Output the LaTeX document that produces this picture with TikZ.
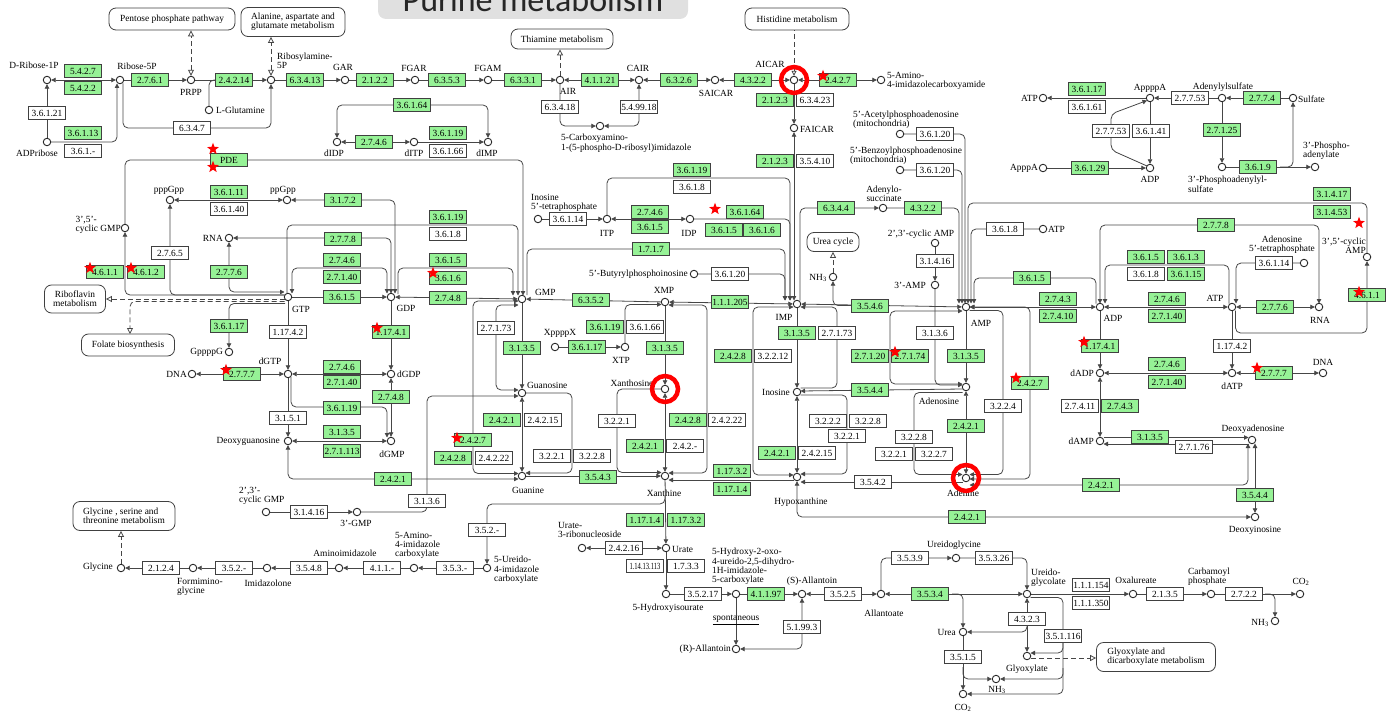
\documentclass[tikz,border=0pt]{standalone}
\usepackage{fontspec}
\setmainfont{Liberation Serif}
\newfontfamily\titlefont{Carlito}
\usepackage{graphicx}
\usetikzlibrary{arrows.meta,shapes.geometric,backgrounds}
\definecolor{kg}{RGB}{150,242,150}
\definecolor{lc}{RGB}{70,70,70}
\newcommand\kfs{\fontsize{9.4}{9.3}\selectfont}
\newcommand\EG[3]{\node[eg] (#1) at (#2) {#3};}
\newcommand\EW[3]{\node[ew] (#1) at (#2) {#3};}
\newcommand\CP[2]{\node[cpd] (#1) at (#2) {};}
\tikzset{
  cpd/.style={circle,draw=black!85,fill=white,line width=0.9pt,inner sep=0pt,minimum size=7.5pt},
  eg/.style={rectangle,draw=black!75,fill=kg,line width=0.8pt,minimum width=37pt,minimum height=12.5pt,inner sep=0.5pt,font=\kfs},
  ew/.style={eg,fill=white},
  lb/.style={inner sep=0pt,font=\kfs,align=center},
  lbl/.style={inner sep=0pt,font=\kfs,align=left},
  mapb/.style={rectangle,rounded corners=7pt,draw=black!75,line width=0.8pt,fill=white,font=\kfs,align=center,inner sep=2pt},
  ln/.style={draw=lc,line width=0.8pt,rounded corners=5pt},
  dsh/.style={ln,dash pattern=on 5pt off 3pt},
  rstar/.style={star,star points=5,star point ratio=2.4,fill=red,draw=none,minimum size=12.5pt,inner sep=0pt},
  ring/.style={circle,draw=red,line width=4.5pt,minimum size=26pt,inner sep=0pt},
  >={Triangle[length=4.5pt,width=4.5pt]},
  op/.style={-{Triangle[open,length=6pt,width=6pt]}},
  opb/.style={{Triangle[open,length=6pt,width=6pt]}-{Triangle[open,length=6pt,width=6pt]}},
  opr/.style={{Triangle[open,length=5pt,width=5pt]}-},
}
\begin{document}
\begin{tikzpicture}[x=1pt,y=-1pt]
\useasboundingbox (0,0) rectangle (1396,719);
% title
\fill[black!12,rounded corners=8pt] (378,-30) rectangle (688,19);
\node[anchor=base,inner sep=0pt,font=\titlefont\fontsize{34}{34}\selectfont,text=black!85] (title) at (533,12) {Purine metabolism};

% ---------------- compounds ----------------
\CP{dr1p}{47,80}\CP{r5p}{120,80}\CP{prpp}{191,80}\CP{lgln}{209,110}\CP{pra}{271,80}
\CP{gar}{345,80}\CP{fgar}{415,80}\CP{fgam}{488,80}\CP{air}{560,80}\CP{cair}{639,80}
\CP{car}{600,126}\CP{saicar}{715,80}\CP{aicar}{794,80}\CP{aica}{881,80}\CP{faicar}{794,128}
\CP{adpr}{47,142}\CP{didp}{337,142}\CP{ditp}{414,142}\CP{dimp}{488,142}
\CP{pppgpp}{170,200}\CP{ppgpp}{287,200}\CP{cgmp}{125,228}\CP{rnaa}{229,238}
\CP{gtp}{288,297}\CP{gppppg}{229,352}\CP{dgtp}{288,374}\CP{dnaa}{192,374}\CP{dgsn}{288,441}
\CP{gdp}{391,297}\CP{dgdp}{391,374}\CP{dgmp}{391,441}\CP{gmp}{522,299}\CP{xmp}{665,302}
\CP{xppppx}{555,347}\CP{xtp}{625,347}\CP{guo}{522,393}\CP{xao}{665,389}\CP{gua}{522,476}
\CP{xan}{665,476}\CP{itp}{607,219}\CP{inotp}{538,219}\CP{idp}{690,219}\CP{butyr}{694,274}
\CP{imp}{797,304}\CP{nhA}{833,277}\CP{ccamp}{935,243}\CP{tamp}{935,285}\CP{amp}{966,307}
\CP{ino}{797,392}\CP{ado}{966,387}\CP{hyp}{797,477}\CP{ade}{966,478}\CP{adsucc}{883,208}
\CP{acet}{900,134}\CP{benz}{900,170}\CP{atpA}{1043,229}\CP{atpB}{1043,98}\CP{apppa}{1043,168}
\CP{appppa}{1150,98}\CP{aps}{1222,98}\CP{sulf}{1293,98}\CP{adpA}{1150,168}\CP{paps}{1222,167}
\CP{pap}{1315,167}\CP{adp}{1100,307}\CP{atp}{1232,307}\CP{rnab}{1319,307}\CP{adotp}{1304,263}
\CP{camp}{1367,257}\CP{dadp}{1100,373}\CP{datp}{1232,373}\CP{dnab}{1323,373}\CP{damp}{1100,441}
\CP{dado}{1252,440}\CP{dino}{1255,517}\CP{cgmpb}{266,512}\CP{tgmp}{357,512}\CP{uic}{487,568}
\CP{aic}{414,568}\CP{aim}{339,568}\CP{imz}{267,568}\CP{fgly}{193,568}\CP{gly}{121,568}
\CP{urate}{666,548}\CP{urn}{582,548}\CP{hiu}{666,594}\CP{ohc}{736,594}\CP{sall}{802,594}
\CP{rall}{736,649}\CP{allo}{881,594}\CP{ugly}{956,558}\CP{ugc}{1027,594}\CP{urea}{963,632}
\CP{glx}{1027,656}\CP{nhB}{996,679}\CP{coA}{963,694}\CP{oxa}{1133,594}\CP{cbp}{1211,594}
\CP{coB}{1300,594}\CP{nhC}{1275,621}

% ---------------- pathway maps ----------------
\node[mapb,minimum width=126,minimum height=22] (ppp) at (172,19) {Pentose phosphate pathway};
\node[mapb,minimum width=104,minimum height=29,align=left] (ala) at (293,22) {Alanine, aspartate and\\glutamate metabolism};
\node[mapb,minimum width=102,minimum height=20] (thi) at (562,39) {Thiamine metabolism};
\node[mapb,minimum width=104,minimum height=22] (his) at (797,19) {Histidine metabolism};
\node[mapb,minimum width=61,minimum height=28] (rib) at (75,299) {Riboflavin\\metabolism};
\node[mapb,minimum width=93,minimum height=22] (fol) at (128,345) {Folate biosynthesis};
\node[mapb,minimum width=52,minimum height=19] (ucy) at (833,242) {Urea cycle};
\node[mapb,minimum width=102,minimum height=29,align=left] (gsm) at (124,516) {Glycine , serine and\\threonine metabolism};
\node[mapb,minimum width=119,minimum height=29,align=left] (gdm) at (1156,657) {Glyoxylate and\\dicarboxylate metabolism};

% ---------------- enzymes ----------------
\EG{e1}{83,71}{5.4.2.7}\EG{e2}{83,88}{5.4.2.2}\EW{e3}{47,113}{3.6.1.21}\EG{e4}{83,133}{3.6.1.13}
\EW{e5}{83,151}{3.6.1.-}\EG{e6}{150,80}{2.7.6.1}\EG{e7}{234,80}{2.4.2.14}\EG{e8}{305,80}{6.3.4.13}
\EW{e9}{192,128}{6.3.4.7}\EG{e10}{375,80}{2.1.2.2}\EG{e11}{447,80}{6.3.5.3}\EG{e12}{523,80}{6.3.3.1}
\EG{e13}{600,80}{4.1.1.21}\EW{e14}{560,107}{6.3.4.18}\EW{e15}{639,107}{5.4.99.18}\EG{e16}{679,80}{6.3.2.6}
\EG{e17}{753,80}{4.3.2.2}\EG{e18}{838,80}{2.4.2.7}\EG{e19}{775,100}{2.1.2.3}\EW{e20}{815,100}{6.3.4.23}
\EG{e21}{775,161}{2.1.2.3}\EW{e22}{815,161}{3.5.4.10}\EG{e23}{412,105}{3.6.1.64}\EG{e24}{374,142}{2.7.4.6}
\EG{e25}{448,133}{3.6.1.19}\EW{e26}{448,151}{3.6.1.66}\EG{e27}{229,160}{PDE}\EG{e28}{229,192}{3.6.1.11}
\EW{e29}{229,209}{3.6.1.40}\EG{e30}{343,200}{3.1.7.2}\EW{e31}{170,253}{2.7.6.5}\EG{e32}{448,217}{3.6.1.19}
\EW{e33}{448,234}{3.6.1.8}\EG{e34}{343,239}{2.7.7.8}\EG{e35}{105,272}{4.6.1.1}\EG{e36}{146,272}{4.6.1.2}
\EG{e37}{229,272}{2.7.7.6}\EG{e38}{342,260}{2.7.4.6}\EG{e39}{342,277}{2.7.1.40}\EG{e40}{342,297}{3.6.1.5}
\EG{e41}{229,326}{3.6.1.17}\EW{e42}{288,332}{1.17.4.2}\EG{e43}{242,374}{2.7.7.7}\EG{e44}{342,367}{2.7.4.6}
\EG{e45}{342,382}{2.7.1.40}\EG{e46}{342,408}{3.6.1.19}\EW{e47}{288,418}{3.1.5.1}\EG{e48}{342,432}{3.1.3.5}
\EG{e49}{342,451}{2.7.1.113}\EG{e50}{448,260}{3.6.1.5}\EG{e51}{448,278}{3.6.1.6}\EG{e52}{448,298}{2.7.4.8}
\EG{e53}{391,332}{1.17.4.1}\EG{e54}{391,397}{2.7.4.8}\EG{e55}{591,300}{6.3.5.2}\EW{e56}{496,328}{2.7.1.73}
\EG{e57}{522,348}{3.1.3.5}\EG{e58}{587,347}{3.6.1.17}\EG{e59}{605,327}{3.6.1.19}\EW{e60}{645,327}{3.6.1.66}
\EG{e61}{665,348}{3.1.3.5}\EG{e62}{502,420}{2.4.2.1}\EW{e63}{543,420}{2.4.2.15}\EG{e64}{473,440}{2.4.2.7}
\EG{e65}{453,458}{2.4.2.8}\EW{e66}{494,458}{2.4.2.22}\EW{e67}{552,456}{3.2.2.1}\EW{e68}{592,456}{3.2.2.8}
\EW{e69}{617,421}{3.2.2.1}\EG{e70}{688,420}{2.4.2.8}\EW{e71}{727,420}{2.4.2.22}\EG{e72}{645,446}{2.4.2.1}
\EW{e73}{685,446}{2.4.2.-}\EG{e74}{651,249}{1.7.1.7}\EW{e75}{568,219}{3.6.1.14}\EG{e76}{650,212}{2.7.4.6}
\EG{e77}{650,227}{3.6.1.5}\EG{e78}{692,170}{3.6.1.19}\EW{e79}{692,187}{3.6.1.8}\EG{e80}{745,212}{3.6.1.64}
\EG{e81}{724,230}{3.6.1.5}\EG{e82}{762,230}{3.6.1.6}\EG{e83}{730,302}{1.1.1.205}\EW{e84}{730,274}{3.6.1.20}
\EG{e85}{733,356}{2.4.2.8}\EW{e86}{773,356}{3.2.2.12}\EG{e87}{797,333}{3.1.3.5}\EW{e88}{837,333}{2.7.1.73}
\EG{e89}{870,306}{3.5.4.6}\EW{e90}{935,261}{3.1.4.16}\EW{e91}{935,333}{3.1.3.6}\EG{e92}{870,356}{2.7.1.20}
\EG{e93}{910,356}{2.7.1.74}\EG{e94}{966,356}{3.1.3.5}\EG{e95}{870,390}{3.5.4.4}\EG{e96}{1032,278}{3.6.1.5}
\EG{e97}{1030,383}{2.4.2.7}\EW{e98}{1003,406}{3.2.2.4}\EW{e99}{828,421}{3.2.2.2}\EW{e100}{868,421}{3.2.2.8}
\EW{e101}{847,436}{3.2.2.1}\EG{e102}{777,453}{2.4.2.1}\EW{e103}{817,453}{2.4.2.15}\EW{e104}{914,437}{3.2.2.8}
\EW{e105}{894,454}{3.2.2.1}\EW{e106}{934,454}{3.2.2.7}\EG{e107}{966,426}{2.4.2.1}\EG{e108}{732,471}{1.17.3.2}
\EG{e109}{732,489}{1.17.1.4}\EW{e110}{873,482}{3.5.4.2}\EG{e111}{967,517}{2.4.2.1}\EG{e112}{1101,485}{2.4.2.1}
\EG{e113}{1255,495}{3.5.4.4}\EG{e114}{598,477}{3.5.4.3}\EG{e115}{393,479}{2.4.2.1}\EW{e116}{427,501}{3.1.3.6}
\EW{e117}{309,512}{3.1.4.16}\EG{e118}{645,520}{1.17.1.4}\EG{e119}{686,520}{1.17.3.2}\EW{e120}{487,530}{3.5.2.-}
\EW{e121}{455,568}{3.5.3.-}\EW{e122}{382,568}{4.1.1.-}\EW{e123}{309,568}{3.5.4.8}\EW{e124}{234,568}{3.5.2.-}
\EW{e125}{161,568}{2.1.2.4}\EW{e126}{624,548}{2.4.2.16}\EW{e127}{645,566}{\scalebox{0.7}[1]{1.14.13.113}}
\EW{e128}{686,566}{1.7.3.3}\EW{e129}{703,594}{3.5.2.17}\EG{e130}{766,594}{4.1.1.97}\EW{e131}{802,627}{5.1.99.3}
\EW{e132}{843,594}{3.5.2.5}\EW{e133}{910,558}{3.5.3.9}\EW{e134}{994,558}{3.5.3.26}\EG{e135}{930,594}{3.5.3.4}
\EW{e136}{1027,619}{4.3.2.3}\EW{e137}{963,657}{3.5.1.5}\EW{e138}{1063,636}{3.5.1.116}\EW{e139}{1091,585}{1.1.1.154}
\EW{e140}{1091,603}{1.1.1.350}\EW{e141}{1165,594}{2.1.3.5}\EW{e142}{1244,594}{2.7.2.2}\EG{e143}{1087,89}{3.6.1.17}
\EW{e144}{1087,107}{3.6.1.61}\EW{e145}{1190,98}{2.7.7.53}\EG{e146}{1262,98}{2.7.7.4}\EW{e147}{1111,131}{2.7.7.53}
\EW{e148}{1151,131}{3.6.1.41}\EG{e149}{1222,130}{2.7.1.25}\EG{e150}{1090,168}{3.6.1.29}\EG{e151}{1258,167}{3.6.1.9}
\EG{e152}{1332,194}{3.1.4.17}\EG{e153}{1332,212}{3.1.4.53}\EG{e154}{1216,225}{2.7.7.8}\EW{e155}{1005,229}{3.6.1.8}
\EW{e156}{935,134}{3.6.1.20}\EW{e157}{935,170}{3.6.1.20}\EG{e158}{836,208}{6.3.4.4}\EG{e159}{923,208}{4.3.2.2}
\EG{e160}{1146,257}{3.6.1.5}\EG{e161}{1186,257}{3.6.1.3}\EW{e162}{1146,274}{3.6.1.8}\EG{e163}{1186,274}{3.6.1.15}
\EW{e164}{1274,263}{3.6.1.14}\EG{e165}{1058,299}{2.7.4.3}\EG{e166}{1058,316}{2.7.4.10}\EG{e167}{1167,299}{2.7.4.6}
\EG{e168}{1167,316}{2.7.1.40}\EG{e169}{1275,307}{2.7.7.6}\EG{e170}{1367,295}{4.6.1.1}\EG{e171}{1100,346}{1.17.4.1}
\EW{e172}{1232,346}{1.17.4.2}\EG{e173}{1167,364}{2.7.4.6}\EG{e174}{1167,382}{2.7.1.40}\EG{e175}{1274,373}{2.7.7.7}
\EW{e176}{1080,406}{2.7.4.11}\EG{e177}{1120,406}{2.7.4.3}\EG{e178}{1150,437}{3.1.3.5}\EW{e179}{1194,447}{2.7.1.76}

% ---------------- connectors (behind) ----------------
\begin{pgfonlayer}{background}
% top row
\draw[ln,<->] (dr1p) -- (r5p);
\draw[ln,->] (r5p) -- (prpp);
\draw[ln,->] (prpp) -- (pra);
\draw[ln] (lgln) |- (224,80);
\draw[ln,->] (pra) -- (gar);
\draw[ln,->] (gar) -- (fgar);
\draw[ln,->] (fgar) -- (fgam);
\draw[ln,->] (fgam) -- (air);
\draw[ln,<->] (air) -- (cair);
\draw[ln,<->] (cair) -- (saicar);
\draw[ln,<->] (saicar) -- (aicar);
\draw[ln,<->] (aicar) -- (aica);
\draw[ln,->] (aicar) -- (faicar);
\draw[ln,<->] (faicar) -- (794,300.5);
\draw[ln,->] (air) |- (car);
\draw[ln,<->] (car) -| (cair);
\draw[ln,->] (adpr) -- (dr1p);
\draw[ln,->] (adpr) -| (117,83.5);
\draw[ln,->] (123,83.5) |- (230,128) -| (pra);
\draw[dsh,opb] (prpp) -- (prpp |- ppp.south);
\draw[dsh,opb] (pra) -- (pra |- ala.south);
\draw[dsh,op] (air) -- (air |- thi.south);
\draw[dsh,opr] (aicar) -- (aicar |- his.south);
% dIDP / dITP / dIMP
\draw[ln,<->] (didp) |- (412,105) -| (dimp);
\draw[ln,<->] (didp) -- (ditp);
\draw[ln,->] (ditp) -- (dimp);
% GTP / GDP / GMP
\draw[ln,->] (cgmp) |- (430,160) -| (523,295.5);
\draw[ln,<->] (ppgpp) -- (pppgpp);
\draw[ln,<->] (ppgpp) -| (395,293.5);
\draw[ln,<->] (rnaa) -| (391,293.5);
\draw[ln,<->] (292,293.5) |- (340,268) -| (387,293.5);
\draw[ln,->] (287,293.5) |- (400,225) -| (518,295.5);
\draw[ln,->] (398,294) |- (450,268) -| (513,295.5);
\draw[ln,->] (284.5,295) -| (pppgpp);
\draw[ln,->] (284.5,295) -| (cgmp);
\draw[ln,<->] (rnaa) |- (284.5,292);
\draw[dsh,op] (284.5,299) -- (rib.east |- 0,299);
\draw[dsh,op] (284.5,301.5) -| (130,334);
\draw[ln,->] (285,303.5) -| (gppppg);
\draw[ln,->] (gtp) -- (gdp);
\draw[ln,<->] (gdp) -- (gmp);
\draw[ln,->] (gtp) -- (dgtp);
\draw[ln,<->] (dnaa) -- (dgtp);
\draw[ln,<->] (dgtp) -- (dgdp);
\draw[ln,->] (dgtp) -- (dgsn);
\draw[ln,->] (291,377) |- (340,407) -| (387,437.5);
\draw[ln,<->] (dgmp) -- (dgsn);
\draw[ln,<->] (dgdp) -- (dgmp);
\draw[ln,->] (gdp) -- (dgdp);
\draw[ln,<->] (dgsn) |- (518.5,479);
% GMP / guanosine / guanine
\draw[ln,<->] (518.5,301) -| (473,380) |- (518.5,473.5);
\draw[ln,<->] (518.5,305) -| (496,350) |- (518.5,390);
\draw[ln,->] (gmp) -- (guo);
\draw[ln,<->] (guo) -- (gua);
\draw[ln,->] (guo) -| (572,430) |- (525.5,473);
\draw[ln,->] (tgmp) -| (427,450) |- (518.5,396);
\draw[ln,->] (cgmpb) -- (tgmp);
\draw[ln,->] (gua) -- (xan);
\draw[ln,->] (527,295) |- (700,249) -| (785,300.5);
% XMP / xanthosine / xanthine
\draw[ln,->] (xmp) -- (gmp);
\draw[ln,<->] (imp) -- (xmp);
\draw[ln,->] (xmp) -- (xao);
\draw[ln,<->] (xao) -- (xan);
\draw[ln,->] (xao) -| (617,430) |- (661.5,472.5);
\draw[ln,<->] (668.5,305) -| (707,390) |- (668.5,473);
\draw[ln,->] (xtp) |- (661.5,304.5);
\draw[ln,->] (xppppx) -- (xtp);
\draw[ln,->] (xan) -- (urate);
\draw[ln,->] (665,496) |- (560,504) -| (uic);
% ITP / IDP -> IMP
\draw[ln,->] (inotp) -- (itp);
\draw[ln,<->] (itp) -- (idp);
\draw[ln,->] (itp) |- (700,178) -| (790,300.5);
\draw[ln,->] (idp) -| (790,300.5);
\draw[ln,->] (butyr) -| (785,300.5);
% IMP / inosine / hypoxanthine
\draw[ln,<->] (amp) -- (imp);
\draw[ln,<-] (nhA) |- (856,305.5);
\draw[dsh,op] (nhA) -- (nhA |- ucy.south);
\draw[ln,->] (800,300.5) |- (adsucc);
\draw[ln,->] (adsucc) -| (959,303.5);
\draw[ln,->] (acet) -| (965,303.5);
\draw[ln,->] (benz) -| (962,303.5);
\draw[ln,->] (imp) -- (ino);
\draw[ln,->] (800.5,388) -| (837,350) |- (800.5,307);
\draw[ln,<->] (793.5,307) -| (753,400) |- (793.5,475);
\draw[ln,<->] (ino) -- (hyp);
\draw[ln,->] (800.5,395) -| (847,430) |- (800.5,474);
\draw[ln,->] (793.5,480) -- (668.5,480);
\draw[ln,->] (962.5,482) -- (800.5,482);
\draw[ln,<->] (hyp) |- (dino);
% AMP / adenosine / adenine
\draw[ln,->] (camp) |- (1100,203) -| (968,303.5);
\draw[ln,->] (atpA) -| (971,303.5);
\draw[ln,->] (1096,303.5) |- (1000,278) -| (974,303.5);
\draw[ln,->] (amp) -- (ado);
\draw[ln,<->] (962.5,311) -| (890,350) |- (962.5,384);
\draw[ln,->] (ccamp) -- (tamp);
\draw[ln,->] (tamp) |- (962.5,385);
\draw[ln,->] (962.5,389) -- (800.5,391);
\draw[ln,<->] (ado) -- (ade);
\draw[ln,->] (962.5,392.5) -| (914,430) |- (962.5,474.5);
\draw[ln,->] (969.5,310.5) -| (1003,400) |- (969.5,474.5);
\draw[ln,<->] (969.5,307) -| (1030,400) |- (969.5,479);
\draw[ln,<->] (amp) -- (adp);
\draw[ln,<->] (969.5,485) -| (1248,443.5);
\draw[ln,<->] (1255,443.5) -- (dino);
% ADP / ATP / dADP ...
\draw[ln,->] (1103.5,437.5) -- (1248.5,437.5);
\draw[ln,->] (1248.5,444) -- (1103.5,444);
\draw[ln,<->] (dadp) -- (damp);
\draw[ln,->] (adp) -- (dadp);
\draw[ln,->] (atp) -- (datp);
\draw[ln,<->] (dadp) -- (datp);
\draw[ln,<->] (datp) -- (dnab);
\draw[ln,<->] (adp) -- (atp);
\draw[ln,<->] (atp) -- (rnab);
\draw[ln,<->] (1100,303.5) |- (1200,225) -| (1319,303.5);
\draw[ln,->] (1229,303.5) |- (1160,265) -| (1105,303.5);
\draw[ln,->] (adotp) -| (1236,303.5);
\draw[ln,->] (1235.5,310.5) |- (1300,333) -| (camp);
% top right
\draw[ln,->] (appppa) -- (atpB);
\draw[ln,->] (aps) -- (appppa);
\draw[ln,->] (sulf) -- (aps);
\draw[ln,->] (aps) -- (paps);
\draw[ln,->] (paps) -- (pap);
\draw[ln,->] (1280,167) -| (sulf);
\draw[ln,->] (appppa) -- (adpA);
\draw[ln,->] (1147,166) -- (1111,150) -- (1111,114) -- (1147,100.5);
\draw[ln,->] (apppa) -- (adpA);
% bottom left
\draw[ln,->] (uic) -- (aic);
\draw[ln,->] (aic) -- (aim);
\draw[ln,->] (aim) -- (imz);
\draw[ln,->] (imz) -- (fgly);
\draw[ln,->] (fgly) -- (gly);
\draw[dsh,op] (gly) -- (gly |- gsm.south);
% urate branch
\draw[ln,<->] (urn) -- (urate);
\draw[ln,->] (urate) -- (hiu);
\draw[ln,->] (hiu) -- (ohc);
\draw[ln,->] (ohc) -- (sall);
\draw[ln,->] (ohc) -- (rall);
\draw[ln,<->] (rall) -| (sall);
\draw[ln,<->] (sall) -- (allo);
\draw[ln,->] (allo) |- (ugly);
\draw[ln,->] (ugly) -| (ugc);
\draw[ln,<->] (allo) -- (ugc);
\draw[ln,->] (952,594) -| (urea);
\draw[ln,<->] (ugc) -- (glx);
\draw[ln,->] (1027,620) |- (urea);
\draw[ln,->] (urea) -- (coA);
\draw[ln,->] (963,667) |- (nhB);
\draw[ln,->] (1030.5,597.5) -| (1063,650) |- (coA);
\draw[ln,->] (1063,642) |- (1030.5,653);
\draw[ln,->] (1063,668) |- (nhB);
\draw[dsh,op] (1031,658) -- (gdm.west |- 0,658);
\draw[ln,->] (ugc) -- (oxa);
\draw[ln,->] (oxa) -- (cbp);
\draw[ln,->] (cbp) -- (coB);
\draw[ln,->] (1265,594) -| (nhC);
\end{pgfonlayer}

% ---------------- labels ----------------
\node[lb] (l1) at (34,65) {D-Ribose-1P};
\node[lb] (l2) at (137,66) {Ribose-5P};
\node[lb] (l3) at (191,92) {PRPP};
\node[lb,anchor=west] (l4) at (216,110) {L-Glutamine};
\node[lbl,anchor=west] (l5) at (277,61) {Ribosylamine-\\5P};
\node[lb] (l6) at (343,67) {GAR};
\node[lb] (l7) at (414,68) {FGAR};
\node[lb] (l8) at (488,68) {FGAM};
\node[lb] (l9) at (568,91) {AIR};
\node[lb] (l10) at (638,68) {CAIR};
\node[lbl,anchor=north west] (l11) at (561,134) {5-Carboxyamino-\\1-(5-phospho-D-ribosyl)imidazole};
\node[lb] (l12) at (716,93) {SAICAR};
\node[lb] (l13) at (770,64) {AICAR};
\node[lbl,anchor=west] (l14) at (887,81) {5-Amino-\\4-imidazolecarboxyamide};
\node[lb,anchor=west] (l15) at (800,129) {FAICAR};
\node[lb] (l16) at (37,153) {ADPribose};
\node[lb] (l17) at (334,153) {dIDP};
\node[lb] (l18) at (414,153) {dITP};
\node[lb] (l19) at (487,153) {dIMP};
\node[lb] (l20) at (169,190) {pppGpp};
\node[lb] (l21) at (283,190) {ppGpp};
\node[lbl,anchor=east] (l22) at (121,225) {3',5'-\\cyclic GMP};
\node[lb,anchor=east] (l23) at (223,238) {RNA};
\node[lb] (l24) at (301,309) {GTP};
\node[lb,anchor=east] (l25) at (223,352) {GppppG};
\node[lb] (l26) at (270,361) {dGTP};
\node[lb,anchor=east] (l27) at (187,374) {DNA};
\node[lb,anchor=east] (l28) at (280,441) {Deoxyguanosine};
\node[lb] (l29) at (406,308) {GDP};
\node[lb,anchor=west] (l30) at (397,374) {dGDP};
\node[lb] (l31) at (392,454) {dGMP};
\node[lb,anchor=west] (l32) at (535,292) {GMP};
\node[lb] (l33) at (664,290) {XMP};
\node[lb] (l34) at (560,333) {XppppX};
\node[lb] (l35) at (621,360) {XTP};
\node[lb,anchor=west] (l36) at (527,385) {Guanosine};
\node[lb] (l37) at (632,383) {Xanthosine};
\node[lb] (l38) at (528,490) {Guanine};
\node[lb] (l39) at (664,493) {Xanthine};
\node[lb] (l40) at (607,233) {ITP};
\node[lbl,anchor=south west] (l41) at (531,212) {Inosine\\5'-tetraphosphate};
\node[lb] (l42) at (689,233) {IDP};
\node[lb,anchor=east] (l43) at (688,274) {5'-Butyrylphosphoinosine};
\node[lb] (l44) at (784,317) {IMP};
\node[lb,anchor=east] (l45) at (827,278) {NH\textsubscript{3}};
\node[lb] (l46) at (921,234) {2',3'-cyclic AMP};
\node[lb,anchor=east] (l47) at (926,285) {3'-AMP};
\node[lb] (l48) at (981,323) {AMP};
\node[lb,anchor=east] (l49) at (790,392) {Inosine};
\node[lb] (l50) at (939,401) {Adenosine};
\node[lb] (l51) at (801,502) {Hypoxanthine};
\node[lb] (l52) at (963,493) {Adenine};
\node[lb] (l53) at (884,194) {Adenylo-\\succinate};
\node[lbl,anchor=south west] (l54) at (853,129) {5'-Acetylphosphoadenosine\\(mitochondria)};
\node[lbl,anchor=south west] (l55) at (850,165) {5'-Benzoylphosphoadenosine\\(mitochondria)};
\node[lb,anchor=west] (l56) at (1048,229) {ATP};
\node[lb,anchor=east] (l57) at (1038,98) {ATP};
\node[lb,anchor=east] (l58) at (1038,168) {ApppA};
\node[lb] (l59) at (1150,88) {AppppA};
\node[lb] (l60) at (1223,87) {Adenylylsulfate};
\node[lb,anchor=west] (l61) at (1298,99) {Sulfate};
\node[lb] (l62) at (1150,179) {ADP};
\node[lbl,anchor=north west] (l63) at (1188,176) {3'-Phosphoadenylyl-\\sulfate};
\node[lbl,anchor=south west] (l64) at (1303,160) {3'-Phospho-\\adenylate};
\node[lb] (l65) at (1113,318) {ADP};
\node[lb] (l66) at (1215,298) {ATP};
\node[lb] (l67) at (1320,320) {RNA};
\node[lb] (l68) at (1282,245) {Adenosine\\5'-tetraphosphate};
\node[lb,anchor=south east,align=right] (l69) at (1366,254) {3',5'-cyclic\\AMP};
\node[lb,anchor=east] (l70) at (1094,373) {dADP};
\node[lb] (l71) at (1232,386) {dATP};
\node[lb] (l72) at (1323,362) {DNA};
\node[lb,anchor=east] (l73) at (1094,441) {dAMP};
\node[lb] (l74) at (1253,429) {Deoxyadenosine};
\node[lb] (l75) at (1255,530) {Deoxyinosine};
\node[lbl,anchor=south west] (l76) at (239,505) {2',3'-\\cyclic GMP};
\node[lb] (l77) at (356,523) {3'-GMP};
\node[lbl,anchor=west] (l78) at (494,570) {5-Ureido-\\4-imidazole\\carboxylate};
\node[lbl,anchor=south west] (l79) at (395,559) {5-Amino-\\4-imidazole\\carboxylate};
\node[lb] (l80) at (345,553) {Aminoimidazole};
\node[lb] (l81) at (268,583) {Imidazolone};
\node[lbl,anchor=north west] (l82) at (177,578) {Formimino-\\glycine};
\node[lb,anchor=east] (l83) at (113,567) {Glycine};
\node[lb,anchor=west] (l84) at (672,549) {Urate};
\node[lbl,anchor=south west] (l85) at (558,538) {Urate-\\3-ribonucleoside};
\node[lb] (l86) at (668,608) {5-Hydroxyisourate};
\node[lbl,anchor=south west] (l87) at (712,585) {5-Hydroxy-2-oxo-\\4-ureido-2,5-dihydro-\\1H-imidazole-\\5-carboxylate};
\node[lb] (l88) at (812,581) {(S)-Allantoin};
\node[lb,anchor=east] (l89) at (731,649) {(R)-Allantoin};
\node[lb] (l90) at (884,613) {Allantoate};
\node[lb] (l91) at (954,545) {Ureidoglycine};
\node[lbl,anchor=south west] (l92) at (1031,587) {Ureido-\\glycolate};
\node[lb,anchor=east] (l93) at (956,632) {Urea};
\node[lb] (l94) at (1027,669) {Glyoxylate};
\node[lb] (l95) at (997,690) {NH\textsubscript{3}};
\node[lb] (l96) at (963,708) {CO\textsubscript{2}};
\node[lb] (l97) at (1136,580) {Oxalureate};
\node[lbl,anchor=south west] (l98) at (1188,586) {Carbamoyl\\phosphate};
\node[lb] (l99) at (1301,582) {CO\textsubscript{2}};
\node[lb,anchor=east] (l100) at (1269,623) {NH\textsubscript{3}};
\node[lb] (l101) at (736,620) {\underline{spontaneous}};

% ---------------- stars and rings ----------------
\foreach \p [count=\i] in {(213,149),(213,167),(90,268),(131,268),(226,370),(433,273),(377,328),(457,438),(715,209),(823,76),(895,352),(1016,378),(1084,342),(1257,368),(1359,292),(1359,223)}
  \node[rstar] (s\i) at \p {};
\node[ring] (r1) at (794,80) {};
\node[ring] (r2) at (665,389) {};
\node[ring] (r3) at (966,478) {};
\end{tikzpicture}
\end{document}
